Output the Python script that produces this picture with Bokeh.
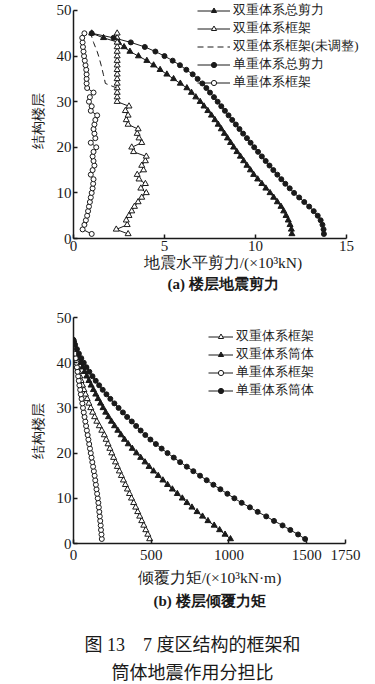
from bokeh.plotting import figure
from bokeh.layouts import column
from bokeh.models import Legend, LegendItem, Title, FixedTicker, Div, Range1d
from bokeh.embed import file_html
from bokeh.resources import INLINE

# ---------------- data ----------------
floors = list(range(1, 46))

# (a) storey seismic shear, x10^3 kN
dual_total_shear = [12.00, 11.97, 11.90, 11.80, 11.68, 11.55, 11.40, 11.20, 11.00, 10.80,
                    10.57, 10.35, 10.12, 9.90, 9.72, 9.53, 9.35, 9.17, 8.98, 8.80,
                    8.63, 8.46, 8.29, 8.12, 7.95, 7.77, 7.58, 7.38, 7.17, 6.96,
                    6.72, 6.48, 6.23, 5.87, 5.50, 5.13, 4.76, 4.40, 4.03, 3.57,
                    3.10, 2.78, 2.47, 1.65, 1.00]
dual_frame_shear = [3.00, 2.35, 2.95, 2.90, 3.05, 3.20, 3.35, 3.55, 3.75, 4.00,
                    3.70, 3.95, 3.60, 3.50, 3.85, 3.75, 3.95, 4.00, 3.30, 3.20,
                    3.75, 3.60, 3.50, 3.55, 3.00, 2.90, 3.00, 2.85, 3.05, 2.40,
                    2.40, 2.40, 2.40, 2.40, 2.40, 2.40, 2.40, 2.40, 2.40, 2.40,
                    2.40, 2.40, 2.40, 2.40, 2.40]
unadj_floors = list(range(33, 46))
dual_frame_unadj = [2.38, 1.75, 1.70, 1.64, 1.58, 1.52, 1.45, 1.38, 1.30, 1.20,
                    1.10, 1.02, 0.95]
single_total_shear = [13.76, 13.74, 13.68, 13.58, 13.42, 13.20, 12.95, 12.68, 12.40, 12.12,
                      11.88, 11.64, 11.42, 11.20, 10.98, 10.77, 10.56, 10.35, 10.14, 9.93,
                      9.73, 9.53, 9.32, 9.12, 8.92, 8.72, 8.52, 8.32, 8.12, 7.92,
                      7.72, 7.50, 7.30, 7.08, 6.82, 6.55, 6.20, 5.85, 5.45, 5.00,
                      4.50, 3.92, 3.15, 2.20, 1.00]
single_frame_shear = [1.00, 0.50, 0.60, 0.68, 0.75, 0.80, 0.85, 0.90, 0.95, 1.00,
                      1.05, 1.08, 1.10, 0.95, 1.05, 1.15, 1.10, 1.05, 1.10, 1.25,
                      0.95, 1.20, 1.15, 1.10, 1.15, 1.20, 1.30, 0.95, 1.00, 0.85,
                      0.90, 1.10, 0.75, 0.72, 0.72, 0.72, 0.70, 0.66, 0.62, 0.58,
                      0.55, 0.52, 0.50, 0.48, 0.60]

# (b) storey overturning moment, x10^3 kN.m
dual_frame_moment = [490, 478, 465, 452, 439, 426, 413, 400, 387, 373,
                     360, 347, 334, 321, 308, 295, 282, 270, 258, 246,
                     234, 222, 210, 198, 182, 166, 150, 136, 123, 111,
                     99, 88, 77, 67, 58, 49, 41, 34, 27, 21,
                     15, 10, 6, 2, 0]
dual_tube_moment = [1010, 975, 940, 905, 865, 830, 795, 762, 730, 700,
                    668, 636, 605, 575, 545, 515, 486, 460, 432, 405,
                    378, 352, 328, 306, 285, 264, 244, 225, 207, 190,
                    174, 158, 143, 128, 113, 99, 85, 71, 58, 46,
                    34, 23, 13, 5, 0]
single_frame_moment = [182, 180, 177, 175, 172, 169, 166, 163, 160, 156,
                       152, 148, 144, 140, 136, 131, 126, 121, 116, 111,
                       106, 101, 96, 91, 86, 81, 76, 71, 66, 61,
                       57, 52, 47, 43, 38, 34, 30, 26, 22, 18,
                       14, 10, 6, 3, 0]
single_tube_moment = [1490, 1445, 1395, 1345, 1290, 1240, 1185, 1135, 1082, 1035,
                      990, 945, 900, 857, 814, 771, 729, 686, 645, 605,
                      567, 530, 495, 462, 432, 403, 375, 345, 318, 290,
                      263, 237, 212, 188, 165, 143, 122, 102, 83, 66,
                      50, 35, 22, 10, 0]

x_ticks_a = [0, 5, 10, 15]
x_ticks_b = [0, 500, 1000, 1500, 1750]
y_ticks = [0, 10, 20, 30, 40, 50]

labels_a = ["双重体系总剪力", "双重体系框架", "双重体系框架(未调整)", "单重体系总剪力", "单重体系框架"]
labels_b = ["双重体系框架", "双重体系筒体", "单重体系框架", "单重体系筒体"]

FONT = "Liberation Serif"
INK = "#1a1a1a"


def style(p, xticks, xbounds):
    p.outline_line_color = None
    p.xgrid.visible = False
    p.ygrid.visible = False
    p.xaxis.ticker = FixedTicker(ticks=xticks)
    p.yaxis.ticker = FixedTicker(ticks=y_ticks)
    p.xaxis.bounds = xbounds
    p.yaxis.bounds = (0, 50)
    for ax in (p.xaxis[0], p.yaxis[0]):
        ax.axis_line_width = 1.5
        ax.axis_line_color = INK
        ax.major_tick_line_width = 1.5
        ax.major_tick_line_color = INK
        ax.major_tick_in = 4
        ax.major_tick_out = 0
        ax.minor_tick_line_color = None
        ax.major_label_text_font = FONT
        ax.major_label_text_font_size = "15px"
        ax.major_label_text_color = INK
        ax.axis_label_text_font = FONT
        ax.axis_label_text_font_style = "normal"
        ax.axis_label_text_color = INK
    p.xaxis.axis_label_text_font_size = "15.5px"
    p.yaxis.axis_label_text_font_size = "13.5px"
    p.yaxis.major_label_standoff = 2
    p.yaxis.axis_label_standoff = 8


def series(p, x, y, marker, fill, size):
    r1 = p.line(x, y, line_color=INK, line_width=1)
    r2 = p.scatter(x, y, marker=marker, size=size, line_color=INK,
                   fill_color=fill, line_width=1)
    return [r1, r2]


def make_legend(items, loc, gw):
    lg = Legend(items=items, location=loc, glyph_width=gw, glyph_height=13,
                label_height=13, spacing=0, padding=0, margin=0,
                border_line_color=None, background_fill_alpha=0,
                label_text_font=FONT, label_text_font_size="13px",
                label_text_line_height=1.0,
                label_text_color=INK, label_standoff=3)
    return lg


# ---------------- panel (a) ----------------
pa = figure(frame_width=299, frame_height=236, output_backend="svg", toolbar_location=None,
            x_range=Range1d(0, 16.43), y_range=Range1d(0, 51.75),
            min_border_left=73, min_border_right=3, min_border_top=2, min_border_bottom=62)
style(pa, x_ticks_a, (0, 15))
pa.xaxis.major_label_standoff = 2
pa.xaxis.axis_label_standoff = 0
pa.xaxis.axis_label = "地震水平剪力/(×10³kN)"
pa.yaxis.axis_label = "结构楼层"

ra1 = series(pa, dual_total_shear, floors, "triangle", INK, 6)
ra2 = series(pa, dual_frame_shear, floors, "triangle", "white", 6)
ra3 = [pa.line(dual_frame_unadj, unadj_floors, line_color=INK, line_width=1, line_dash="6 4")]
ra4 = series(pa, single_total_shear, floors, "circle", INK, 5)
ra5 = series(pa, single_frame_shear, floors, "circle", "white", 5)

leg_a = make_legend([LegendItem(label=labels_a[i], renderers=r) for i, r in
                     enumerate([ra1, ra2, ra3, ra4, ra5])], (124, 147), 33)
pa.add_layout(leg_a)
pa.add_layout(Title(text="(a) 楼层地震剪力", align="center", text_font=FONT,
                    text_font_size="15px", text_font_style="bold",
                    text_color=INK, standoff=0), "below")

# ---------------- panel (b) ----------------
pb = figure(frame_width=272, frame_height=226, output_backend="svg", toolbar_location=None,
            x_range=Range1d(0, 1750), y_range=Range1d(0, 50),
            min_border_left=73, min_border_right=30, min_border_top=17, min_border_bottom=76)
style(pb, x_ticks_b, (0, 1750))
pb.xaxis.major_label_standoff = 6
pb.xaxis.axis_label_standoff = 6
pb.xaxis.axis_label = "倾覆力矩/(×10³kN·m)"
pb.yaxis.axis_label = "结构楼层"

rb1 = series(pb, dual_frame_moment, floors, "triangle", "white", 6)
rb2 = series(pb, dual_tube_moment, floors, "triangle", INK, 6)
rb3 = series(pb, single_frame_moment, floors, "circle", "white", 5)
rb4 = series(pb, single_tube_moment, floors, "circle", INK, 5)

leg_b = make_legend([LegendItem(label=labels_b[i], renderers=r) for i, r in
                     enumerate([rb1, rb2, rb3, rb4])], (135, 144), 25)
pb.add_layout(leg_b)
pb.add_layout(Title(text="(b) 楼层倾覆力矩", align="center", text_font=FONT,
                    text_font_size="15px", text_font_style="bold",
                    text_color=INK, standoff=4), "below")

caption = Div(text='<div style="width:375px;text-align:center;font-family:\'Liberation Serif\',\'Noto Sans CJK SC\';'
                   'font-size:18px;line-height:28px;color:#1a1a1a;padding-top:7px">'
                   '图 13　7 度区结构的框架和<br>筒体地震作用分担比</div>', width=375, height=65)

layout = column(pa, pb, caption, spacing=0)
open("out.html", "w").write(file_html(layout, INLINE))
